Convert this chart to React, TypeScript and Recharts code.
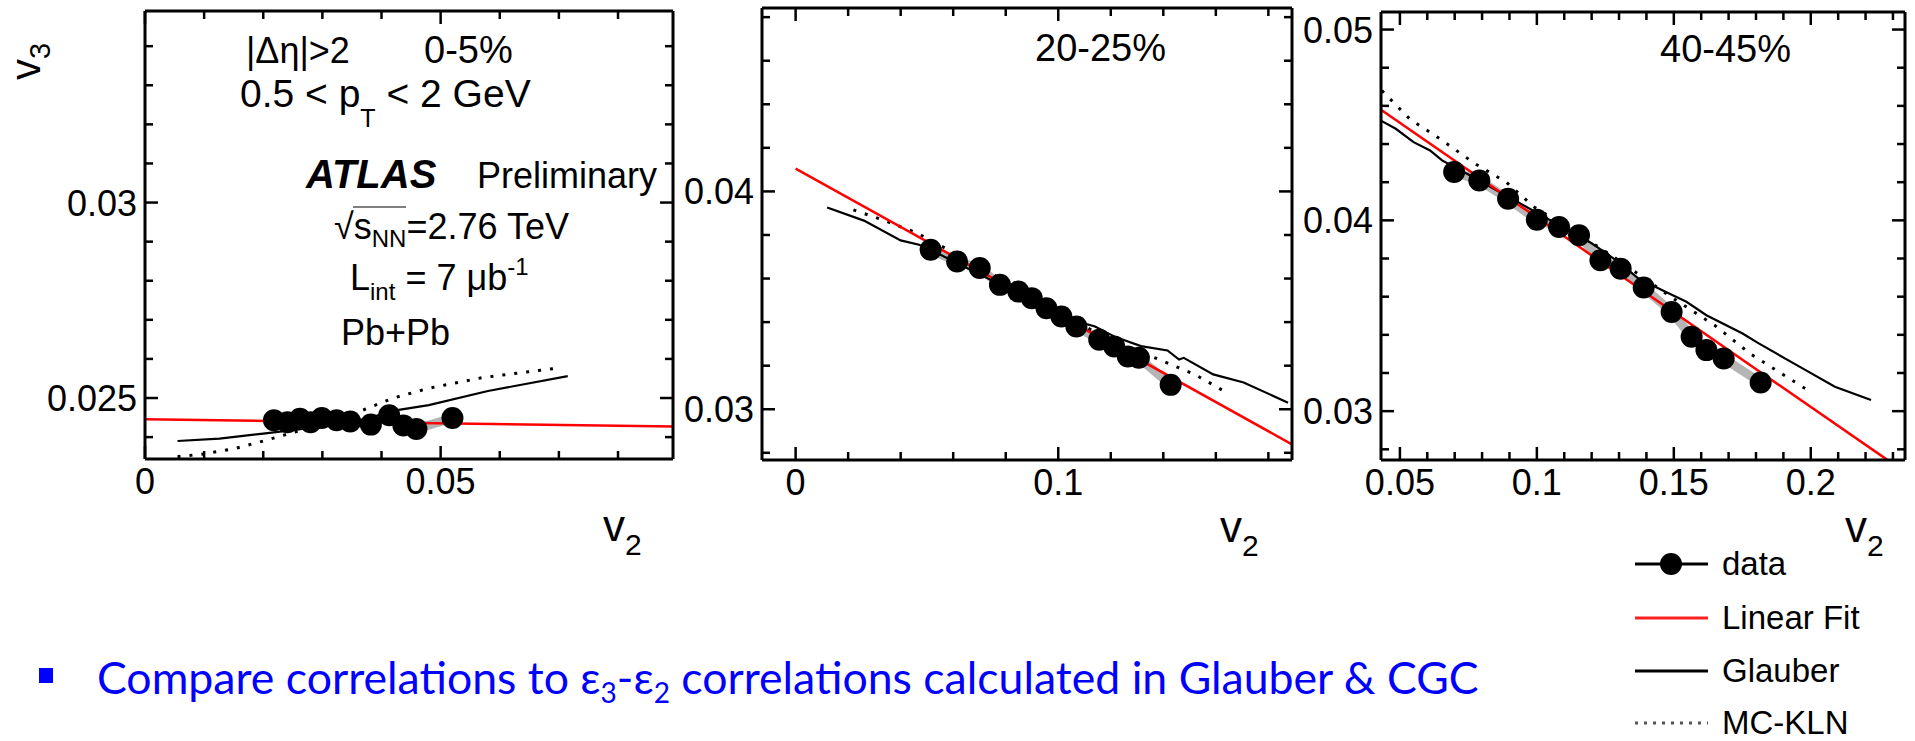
import React from "react";
import { ComposedChart, XAxis, YAxis, Line, Scatter } from "recharts";

type Pt = { x: number; y: number };
const zip = (xs: number[], ys: number[]): Pt[] => xs.map((x, i) => ({ x, y: ys[i] }));

// 0-5 %
const c05DataV2 = [0.0218, 0.0241, 0.0262, 0.028, 0.0299, 0.0324, 0.0347, 0.0382, 0.0413, 0.0437, 0.0459, 0.052];
const c05DataV3 = [0.02443, 0.02438, 0.02447, 0.02438, 0.02449, 0.02443, 0.0244, 0.02432, 0.02456, 0.0243, 0.02421, 0.02449];
const c05FitV2 = [0, 0.0893];
const c05FitV3 = [0.02446, 0.02427];
const c05GlauberV2 = [0.0055, 0.0126, 0.02, 0.026, 0.032, 0.038, 0.0413, 0.048, 0.058, 0.0715];
const c05GlauberV3 = [0.0239, 0.02396, 0.02409, 0.0242, 0.02432, 0.02448, 0.02466, 0.02482, 0.02518, 0.02556];
const c05KlnV2 = [0.0055, 0.01, 0.015, 0.02, 0.027, 0.033, 0.037, 0.042, 0.048, 0.057, 0.07];
const c05KlnV3 = [0.0235, 0.02357, 0.0237, 0.0239, 0.0242, 0.02447, 0.0247, 0.025, 0.02525, 0.02552, 0.02577];

// 20-25 %
const c20DataV2 = [0.0514, 0.0615, 0.0701, 0.0778, 0.0848, 0.0899, 0.0955, 0.1012, 0.1069, 0.1156, 0.1213, 0.1265, 0.1307, 0.1428];
const c20DataV3 = [0.03732, 0.03678, 0.03648, 0.03571, 0.0354, 0.0351, 0.03464, 0.03426, 0.0338, 0.03319, 0.03288, 0.03242, 0.03236, 0.03112];
const c20FitV2 = [0, 0.189];
const c20FitV3 = [0.04105, 0.02839];
const c20GlauberV2 = [0.012, 0.026, 0.04, 0.047, 0.055, 0.065, 0.075, 0.085, 0.095, 0.105, 0.114, 0.122, 0.1315, 0.1416, 0.146, 0.1478, 0.159, 0.1706, 0.1875];
const c20GlauberV3 = [0.03926, 0.03866, 0.03775, 0.03755, 0.0371, 0.0365, 0.0359, 0.0353, 0.0347, 0.0341, 0.0338, 0.0333, 0.0329, 0.0327, 0.03228, 0.03236, 0.0316, 0.03123, 0.0303];
const c20KlnV2 = [0.022, 0.033, 0.046, 0.06, 0.075, 0.09, 0.105, 0.12, 0.13, 0.14, 0.152, 0.165];
const c20KlnV3 = [0.03915, 0.0387, 0.0381, 0.0372, 0.0362, 0.0352, 0.0341, 0.0332, 0.0327, 0.0322, 0.0316, 0.0307];

// 40-45 %
const c40DataV2 = [0.0698, 0.079, 0.0895, 0.1, 0.1081, 0.1154, 0.1232, 0.1306, 0.139, 0.1492, 0.1565, 0.1619, 0.1682, 0.1817];
const c40DataV3 = [0.04253, 0.04209, 0.04113, 0.04003, 0.03965, 0.03922, 0.03791, 0.03747, 0.03648, 0.0352, 0.0339, 0.0332, 0.03276, 0.0315];
const c40FitV2 = [0.0431, 0.2278];
const c40FitV3 = [0.0458, 0.02746];
const c40GlauberV2 = [0.0434, 0.0485, 0.055, 0.061, 0.0654, 0.075, 0.09, 0.105, 0.12, 0.13, 0.1371, 0.1458, 0.1546, 0.1619, 0.1751, 0.181, 0.197, 0.2088, 0.222];
const c40GlauberV3 = [0.0452, 0.0448, 0.0441, 0.04366, 0.04314, 0.0424, 0.0412, 0.04, 0.0388, 0.0378, 0.03695, 0.03634, 0.03573, 0.03503, 0.03407, 0.03355, 0.03224, 0.03128, 0.03058];
const c40KlnV2 = [0.0434, 0.0537, 0.0654, 0.0771, 0.0888, 0.099, 0.115, 0.13, 0.1488, 0.1649, 0.178, 0.2];
const c40KlnV3 = [0.0468, 0.0453, 0.0442, 0.043, 0.042, 0.0407, 0.0393, 0.0379, 0.036, 0.0345, 0.033, 0.031];

// axis ticks
const c05XTicks = [0, 0.01, 0.02, 0.03, 0.04, 0.05, 0.06, 0.07, 0.08];
const c05XMajor = [0, 0.05];
const c05YTicks = [0.024, 0.025, 0.026, 0.027, 0.028, 0.029, 0.03, 0.031, 0.032, 0.033, 0.034];
const c05YMajor = [0.025, 0.03];
const c20XTicks = [0, 0.02, 0.04, 0.06, 0.08, 0.1, 0.12, 0.14, 0.16, 0.18];
const c20XMajor = [0, 0.1];
const c20YTicks = [0.028, 0.03, 0.032, 0.034, 0.036, 0.038, 0.04, 0.042, 0.044, 0.046, 0.048];
const c20YMajor = [0.03, 0.04];
const c40XTicks = [0.05, 0.06, 0.07, 0.08, 0.09, 0.1, 0.11, 0.12, 0.13, 0.14, 0.15, 0.16, 0.17, 0.18, 0.19, 0.2, 0.21, 0.22, 0.23];
const c40XMajor = [0.05, 0.1, 0.15, 0.2];
const c40YTicks = [0.028, 0.03, 0.032, 0.034, 0.036, 0.038, 0.04, 0.042, 0.044, 0.046, 0.048, 0.05];
const c40YMajor = [0.03, 0.04, 0.05];

const legendLabels = ["data", "Linear Fit", "Glauber", "MC-KLN"];

const FONT = "'Liberation Sans', Arial, Helvetica, sans-serif";

type Side = "bottom" | "top" | "left" | "right";

function makeTick(side: Side, majors: number[], withLabels: boolean) {
  return (props: any) => {
    const { x, y, payload } = props;
    const v = payload.value;
    const major = majors.some((m) => Math.abs(m - v) < 1e-9);
    const len = major ? 13 : 8;
    let mark;
    let label = null;
    if (side === "bottom") {
      mark = <line x1={x} y1={y} x2={x} y2={y - len} />;
      if (withLabels && major)
        label = <text x={x} y={y + 35} textAnchor="middle">{String(v)}</text>;
    } else if (side === "top") {
      mark = <line x1={x} y1={y} x2={x} y2={y + len} />;
    } else if (side === "left") {
      mark = <line x1={x} y1={y} x2={x + len} y2={y} />;
      if (withLabels && major)
        label = <text x={x - 8} y={y + 13} textAnchor="end">{String(v)}</text>;
    } else {
      mark = <line x1={x} y1={y} x2={x - len} y2={y} />;
    }
    return (
      <g>
        <g stroke="#000" strokeWidth={2.5}>{mark}</g>
        {label && (
          <g fill="#000" fontSize={36} fontFamily={FONT}>{label}</g>
        )}
      </g>
    );
  };
}

function V2Label(props: any) {
  const { viewBox, shift } = props;
  const x = viewBox.x + viewBox.width - shift;
  const y = viewBox.y + 82;
  return (
    <text x={x} y={y} fontFamily={FONT} fill="#000" fontSize={44}>
      v<tspan fontSize={30} dy={14}>2</tspan>
    </text>
  );
}

function V3Label() {
  return (
    <text transform="translate(40,80) rotate(-90)" fontFamily={FONT} fill="#000" fontSize={42}>
      v<tspan fontSize={29} dy={10}>3</tspan>
    </text>
  );
}

const dot = (p: any) => <circle cx={p.cx} cy={p.cy} r={11} fill="#000" />;

type PanelProps = {
  left: number;
  width: number;
  height: number;
  margin: { top: number; right: number; bottom: number; left: number };
  xDomain: [number, number];
  yDomain: [number, number];
  xTicks: number[];
  xMajor: number[];
  yTicks: number[];
  yMajor: number[];
  data: Pt[];
  fit: Pt[];
  glauber: Pt[];
  kln: Pt[];
  v2Shift: number;
  v3?: boolean;
};

// axes get a 1px box (recharts skips axes of size 0), margins are reduced by 1 to match
function Panel(p: PanelProps) {
  const m = { top: p.margin.top - 1, right: p.margin.right - 1, bottom: p.margin.bottom - 1, left: p.margin.left - 1 };
  return (
    <div style={{ position: "absolute", left: p.left, top: 0 }}>
      <ComposedChart width={p.width} height={p.height} margin={m}>
        <XAxis xAxisId="x" dataKey="x" type="number" domain={p.xDomain} allowDataOverflow ticks={p.xTicks}
          interval={0} height={1} tickSize={0} tickMargin={0} tickLine={false}
          axisLine={{ stroke: "#000", strokeWidth: 3 }} tick={makeTick("bottom", p.xMajor, true)}
          label={<V2Label shift={p.v2Shift} />} />
        <XAxis xAxisId="xt" orientation="top" dataKey="x" type="number" domain={p.xDomain} allowDataOverflow ticks={p.xTicks}
          interval={0} height={1} tickSize={0} tickMargin={0} tickLine={false}
          axisLine={{ stroke: "#000", strokeWidth: 3 }} tick={makeTick("top", p.xMajor, false)} />
        <YAxis yAxisId="y" type="number" domain={p.yDomain} allowDataOverflow ticks={p.yTicks}
          interval={0} width={1} tickSize={0} tickMargin={0} tickLine={false}
          axisLine={{ stroke: "#000", strokeWidth: 3 }} tick={makeTick("left", p.yMajor, true)}
          label={p.v3 ? <V3Label /> : undefined} />
        <YAxis yAxisId="yt" orientation="right" type="number" domain={p.yDomain} allowDataOverflow ticks={p.yTicks}
          interval={0} width={1} tickSize={0} tickMargin={0} tickLine={false}
          axisLine={{ stroke: "#000", strokeWidth: 3 }} tick={makeTick("right", p.yMajor, false)} />
        <Line xAxisId="x" yAxisId="y" data={p.data} dataKey="y" type="linear" stroke="#b5b5b5" strokeWidth={9}
          strokeLinejoin="round" dot={false} isAnimationActive={false} />
        <Line xAxisId="x" yAxisId="y" data={p.glauber} dataKey="y" type="linear" stroke="#000" strokeWidth={2.2}
          dot={false} isAnimationActive={false} />
        <Line xAxisId="x" yAxisId="y" data={p.kln} dataKey="y" type="linear" stroke="#000" strokeWidth={3}
          strokeDasharray="3 9" dot={false} isAnimationActive={false} />
        <Scatter xAxisId="x" yAxisId="y" data={p.data} dataKey="y" shape={dot} isAnimationActive={false} />
        <Line xAxisId="x" yAxisId="y" data={p.fit} dataKey="y" type="linear" stroke="#ff0000" strokeWidth={2.5}
          dot={false} isAnimationActive={false} />
      </ComposedChart>
    </div>
  );
}

function Overlay() {
  const legendY = [564, 618, 671, 723];
  return (
    <svg width={1915} height={741} style={{ position: "absolute", left: 0, top: 0, pointerEvents: "none" }}>
      <g fontFamily={FONT} fill="#000" fontSize={36}>
        <text x={246} y={63}>|Δη|&gt;2</text>
        <text x={424} y={63} fontSize={38}>0-5%</text>
        <text x={240} y={107} fontSize={39}>
          0.5 &lt; p<tspan fontSize={25} dy={20}>T</tspan><tspan dy={-20}> &lt; 2 GeV</tspan>
        </text>
        <text x={306} y={188} fontWeight="bold" fontStyle="italic" fontSize={40}>ATLAS</text>
        <text x={477} y={188}>Preliminary</text>
        <text x={334} y={239}>
          √<tspan>s</tspan><tspan fontSize={24} dy={8}>NN</tspan><tspan dy={-8}>=2.76 TeV</tspan>
        </text>
        <line x1={353} y1={207} x2={406} y2={207} stroke="#555" strokeWidth={1.5} />
        <text x={350} y={290}>
          L<tspan fontSize={24} dy={10}>int</tspan><tspan dy={-10}> = 7 μb</tspan><tspan fontSize={24} dy={-15}>-1</tspan>
        </text>
        <text x={341} y={345}>Pb+Pb</text>
        <text x={1035} y={61} fontSize={38}>20-25%</text>
        <text x={1660} y={62} fontSize={38}>40-45%</text>
      </g>
      <g fontFamily={FONT} fill="#000" fontSize={33}>
        {legendLabels.map((l, i) => (
          <text key={l} x={1722} y={legendY[i] + 11}>{l}</text>
        ))}
      </g>
      <line x1={1635} x2={1708} y1={legendY[0]} y2={legendY[0]} stroke="#000" strokeWidth={3} />
      <circle cx={1671} cy={legendY[0]} r={11} fill="#000" />
      <line x1={1635} x2={1708} y1={legendY[1]} y2={legendY[1]} stroke="#ff2020" strokeWidth={3} />
      <line x1={1635} x2={1708} y1={legendY[2]} y2={legendY[2]} stroke="#000" strokeWidth={3} />
      <line x1={1635} x2={1708} y1={legendY[3]} y2={legendY[3]} stroke="#555" strokeWidth={3} strokeDasharray="3 6" />
      <rect x={39} y={668} width={14} height={15} fill="#0000ff" />
      <text x={97} y={694} fontFamily="Lato, 'Noto Sans', sans-serif" fontSize={44.6} fill="#0000ff">
        Compare correlations to ε<tspan fontSize={28} dy={9}>3</tspan><tspan dy={-9}>-ε</tspan><tspan fontSize={28} dy={9}>2</tspan><tspan dy={-9}> correlations calculated in Glauber &amp; CGC</tspan>
      </text>
    </svg>
  );
}

export default function App() {
  return (
    <div style={{ position: "absolute", left: 0, top: 0, width: 1915, height: 741, background: "#fff", overflow: "hidden" }}>
      <Panel left={0} width={700} height={600} margin={{ top: 11, right: 27, bottom: 141, left: 145 }}
        xDomain={[0, 0.0893]} yDomain={[0.02344, 0.0349]} xTicks={c05XTicks} xMajor={c05XMajor}
        yTicks={c05YTicks} yMajor={c05YMajor} data={zip(c05DataV2, c05DataV3)} fit={zip(c05FitV2, c05FitV3)}
        glauber={zip(c05GlauberV2, c05GlauberV3)} kln={zip(c05KlnV2, c05KlnV3)} v2Shift={70} v3 />
      <Panel left={660} width={660} height={600} margin={{ top: 8, right: 28, bottom: 140, left: 102 }}
        xDomain={[-0.0128, 0.189]} yDomain={[0.02767, 0.04842]} xTicks={c20XTicks} xMajor={c20XMajor}
        yTicks={c20YTicks} yMajor={c20YMajor} data={zip(c20DataV2, c20DataV3)} fit={zip(c20FitV2, c20FitV3)}
        glauber={zip(c20GlauberV2, c20GlauberV3)} kln={zip(c20KlnV2, c20KlnV3)} v2Shift={72} />
      <Panel left={1280} width={635} height={600} margin={{ top: 12, right: 10, bottom: 140, left: 101 }}
        xDomain={[0.0431, 0.2344]} yDomain={[0.02744, 0.05092]} xTicks={c40XTicks} xMajor={c40XMajor}
        yTicks={c40YTicks} yMajor={c40YMajor} data={zip(c40DataV2, c40DataV3)} fit={zip(c40FitV2, c40FitV3)}
        glauber={zip(c40GlauberV2, c40GlauberV3)} kln={zip(c40KlnV2, c40KlnV3)} v2Shift={60} />
      <Overlay />
    </div>
  );
}
